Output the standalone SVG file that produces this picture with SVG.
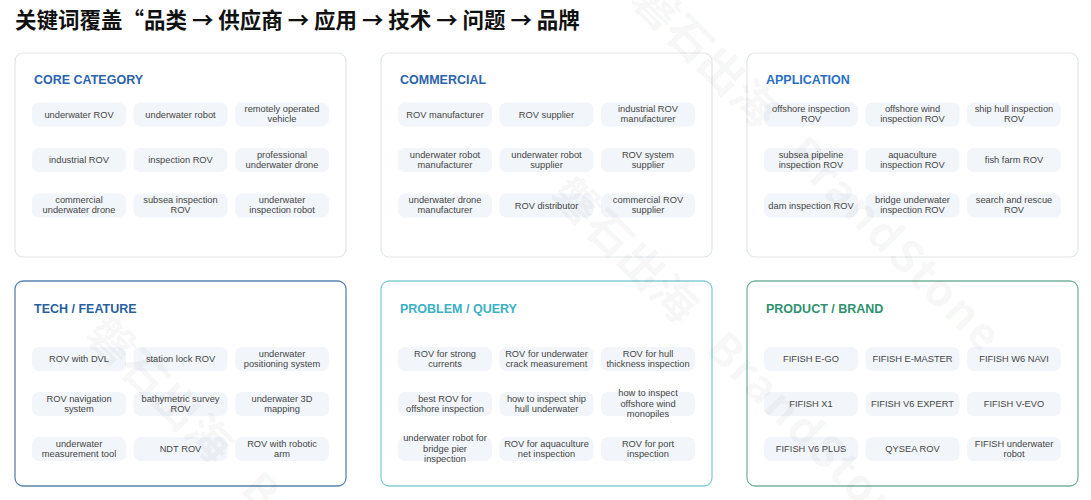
<svg xmlns="http://www.w3.org/2000/svg" width="1091" height="500" viewBox="0 0 1091 500">
<style>
.bg{fill:#ffffff}
.title{font-family:"Noto Sans CJK SC","Liberation Sans",sans-serif;font-weight:700;font-size:21.5px;fill:#111111}
.panel{fill:#ffffff;stroke:#e1e5ea;stroke-width:1.2}
.p-tech{stroke:#5b82ae;stroke-width:1.3}
.p-prob{stroke:#86cdd4;stroke-width:1.3}
.p-prod{stroke:#78b49c;stroke-width:1.3}
.head{font-family:"Liberation Sans",Arial,sans-serif;font-weight:700;font-size:12.5px}
.h-blue{fill:#2b63ad}
.h-app{fill:#2a6fc4}
.h-tech{fill:#2a5f9e}
.h-prob{fill:#3bb0c6}
.h-prod{fill:#2e926e}
.chip rect{fill:#f2f5f9}
.chip text{font-family:"Liberation Sans",Arial,sans-serif;font-size:9.3px;fill:#454545;text-anchor:middle}
.wm{font-family:"Noto Sans CJK SC","Liberation Sans",sans-serif;font-weight:700;font-size:44px;fill:#000000;fill-opacity:0.045}
</style>
<rect class="bg" x="0" y="0" width="1091" height="500"/>
<text id="page-title" class="title" x="15" y="28">关键词覆盖“品类 → 供应商 → 应用 → 技术 → 问题 → 品牌</text>

<!-- CORE CATEGORY -->
<g id="core-category">
<rect class="panel" x="15" y="53" width="331" height="204" rx="8"/>
<text class="head h-blue" x="34" y="84">CORE CATEGORY</text>
<g class="chip"><rect x="32" y="102.5" width="94" height="24" rx="7"/><text x="79" y="117.8">underwater ROV</text></g>
<g class="chip"><rect x="133.5" y="102.5" width="94" height="24" rx="7"/><text x="180.5" y="117.8">underwater robot</text></g>
<g class="chip"><rect x="235" y="102.5" width="94" height="24" rx="7"/><text x="282" y="112">remotely operated</text><text x="282" y="122.2">vehicle</text></g>
<g class="chip"><rect x="32" y="148" width="94" height="24" rx="7"/><text x="79" y="163.3">industrial ROV</text></g>
<g class="chip"><rect x="133.5" y="148" width="94" height="24" rx="7"/><text x="180.5" y="163.3">inspection ROV</text></g>
<g class="chip"><rect x="235" y="148" width="94" height="24" rx="7"/><text x="282" y="157.5">professional</text><text x="282" y="167.7">underwater drone</text></g>
<g class="chip"><rect x="32" y="193.5" width="94" height="24" rx="7"/><text x="79" y="203">commercial</text><text x="79" y="213.2">underwater drone</text></g>
<g class="chip"><rect x="133.5" y="193.5" width="94" height="24" rx="7"/><text x="180.5" y="203">subsea inspection</text><text x="180.5" y="213.2">ROV</text></g>
<g class="chip"><rect x="235" y="193.5" width="94" height="24" rx="7"/><text x="282" y="203">underwater</text><text x="282" y="213.2">inspection robot</text></g>
</g>

<!-- COMMERCIAL -->
<g id="commercial">
<rect class="panel" x="381" y="53" width="331" height="204" rx="8"/>
<text class="head h-blue" x="400" y="84">COMMERCIAL</text>
<g class="chip"><rect x="398" y="102.5" width="94" height="24" rx="7"/><text x="445" y="117.8">ROV manufacturer</text></g>
<g class="chip"><rect x="499.5" y="102.5" width="94" height="24" rx="7"/><text x="546.5" y="117.8">ROV supplier</text></g>
<g class="chip"><rect x="601" y="102.5" width="94" height="24" rx="7"/><text x="648" y="112">industrial ROV</text><text x="648" y="122.2">manufacturer</text></g>
<g class="chip"><rect x="398" y="148" width="94" height="24" rx="7"/><text x="445" y="157.5">underwater robot</text><text x="445" y="167.7">manufacturer</text></g>
<g class="chip"><rect x="499.5" y="148" width="94" height="24" rx="7"/><text x="546.5" y="157.5">underwater robot</text><text x="546.5" y="167.7">supplier</text></g>
<g class="chip"><rect x="601" y="148" width="94" height="24" rx="7"/><text x="648" y="157.5">ROV system</text><text x="648" y="167.7">supplier</text></g>
<g class="chip"><rect x="398" y="193.5" width="94" height="24" rx="7"/><text x="445" y="203">underwater drone</text><text x="445" y="213.2">manufacturer</text></g>
<g class="chip"><rect x="499.5" y="193.5" width="94" height="24" rx="7"/><text x="546.5" y="208.8">ROV distributor</text></g>
<g class="chip"><rect x="601" y="193.5" width="94" height="24" rx="7"/><text x="648" y="203">commercial ROV</text><text x="648" y="213.2">supplier</text></g>
</g>

<!-- APPLICATION -->
<g id="application">
<rect class="panel" x="747" y="53" width="331" height="204" rx="8"/>
<text class="head h-app" x="766" y="84">APPLICATION</text>
<g class="chip"><rect x="764" y="102.5" width="94" height="24" rx="7"/><text x="811" y="112">offshore inspection</text><text x="811" y="122.2">ROV</text></g>
<g class="chip"><rect x="865.5" y="102.5" width="94" height="24" rx="7"/><text x="912.5" y="112">offshore wind</text><text x="912.5" y="122.2">inspection ROV</text></g>
<g class="chip"><rect x="967" y="102.5" width="94" height="24" rx="7"/><text x="1014" y="112">ship hull inspection</text><text x="1014" y="122.2">ROV</text></g>
<g class="chip"><rect x="764" y="148" width="94" height="24" rx="7"/><text x="811" y="157.5">subsea pipeline</text><text x="811" y="167.7">inspection ROV</text></g>
<g class="chip"><rect x="865.5" y="148" width="94" height="24" rx="7"/><text x="912.5" y="157.5">aquaculture</text><text x="912.5" y="167.7">inspection ROV</text></g>
<g class="chip"><rect x="967" y="148" width="94" height="24" rx="7"/><text x="1014" y="163.3">fish farm ROV</text></g>
<g class="chip"><rect x="764" y="193.5" width="94" height="24" rx="7"/><text x="811" y="208.8">dam inspection ROV</text></g>
<g class="chip"><rect x="865.5" y="193.5" width="94" height="24" rx="7"/><text x="912.5" y="203">bridge underwater</text><text x="912.5" y="213.2">inspection ROV</text></g>
<g class="chip"><rect x="967" y="193.5" width="94" height="24" rx="7"/><text x="1014" y="203">search and rescue</text><text x="1014" y="213.2">ROV</text></g>
</g>

<!-- TECH / FEATURE -->
<g id="tech-feature">
<rect class="panel p-tech" x="15" y="281" width="331" height="205" rx="8"/>
<text class="head h-tech" x="34" y="313">TECH / FEATURE</text>
<g class="chip"><rect x="32" y="347" width="94" height="24" rx="7"/><text x="79" y="362.3">ROV with DVL</text></g>
<g class="chip"><rect x="133.5" y="347" width="94" height="24" rx="7"/><text x="180.5" y="362.3">station lock ROV</text></g>
<g class="chip"><rect x="235" y="347" width="94" height="24" rx="7"/><text x="282" y="356.5">underwater</text><text x="282" y="366.7">positioning system</text></g>
<g class="chip"><rect x="32" y="392" width="94" height="24" rx="7"/><text x="79" y="401.5">ROV navigation</text><text x="79" y="411.7">system</text></g>
<g class="chip"><rect x="133.5" y="392" width="94" height="24" rx="7"/><text x="180.5" y="401.5">bathymetric survey</text><text x="180.5" y="411.7">ROV</text></g>
<g class="chip"><rect x="235" y="392" width="94" height="24" rx="7"/><text x="282" y="401.5">underwater 3D</text><text x="282" y="411.7">mapping</text></g>
<g class="chip"><rect x="32" y="437" width="94" height="24" rx="7"/><text x="79" y="446.5">underwater</text><text x="79" y="456.7">measurement tool</text></g>
<g class="chip"><rect x="133.5" y="437" width="94" height="24" rx="7"/><text x="180.5" y="452.3">NDT ROV</text></g>
<g class="chip"><rect x="235" y="437" width="94" height="24" rx="7"/><text x="282" y="446.5">ROV with robotic</text><text x="282" y="456.7">arm</text></g>
</g>

<!-- PROBLEM / QUERY -->
<g id="problem-query">
<rect class="panel p-prob" x="381" y="281" width="331" height="205" rx="8"/>
<text class="head h-prob" x="400" y="313">PROBLEM / QUERY</text>
<g class="chip"><rect x="398" y="347" width="94" height="24" rx="7"/><text x="445" y="356.5">ROV for strong</text><text x="445" y="366.7">currents</text></g>
<g class="chip"><rect x="499.5" y="347" width="94" height="24" rx="7"/><text x="546.5" y="356.5">ROV for underwater</text><text x="546.5" y="366.7">crack measurement</text></g>
<g class="chip"><rect x="601" y="347" width="94" height="24" rx="7"/><text x="648" y="356.5">ROV for hull</text><text x="648" y="366.7">thickness inspection</text></g>
<g class="chip"><rect x="398" y="392" width="94" height="24" rx="7"/><text x="445" y="401.5">best ROV for</text><text x="445" y="411.7">offshore inspection</text></g>
<g class="chip"><rect x="499.5" y="392" width="94" height="24" rx="7"/><text x="546.5" y="401.5">how to inspect ship</text><text x="546.5" y="411.7">hull underwater</text></g>
<g class="chip"><rect x="601" y="392" width="94" height="24" rx="7"/><text x="648" y="396">how to inspect</text><text x="648" y="406.6">offshore wind</text><text x="648" y="417.2">monopiles</text></g>
<g class="chip"><rect x="398" y="437" width="94" height="24" rx="7"/><text x="445" y="441">underwater robot for</text><text x="445" y="451.6">bridge pier</text><text x="445" y="462.2">inspection</text></g>
<g class="chip"><rect x="499.5" y="437" width="94" height="24" rx="7"/><text x="546.5" y="446.5">ROV for aquaculture</text><text x="546.5" y="456.7">net inspection</text></g>
<g class="chip"><rect x="601" y="437" width="94" height="24" rx="7"/><text x="648" y="446.5">ROV for port</text><text x="648" y="456.7">inspection</text></g>
</g>

<!-- PRODUCT / BRAND -->
<g id="product-brand">
<rect class="panel p-prod" x="747" y="281" width="331" height="205" rx="8"/>
<text class="head h-prod" x="766" y="313">PRODUCT / BRAND</text>
<g class="chip"><rect x="764" y="347" width="94" height="24" rx="7"/><text x="811" y="362.3">FIFISH E-GO</text></g>
<g class="chip"><rect x="865.5" y="347" width="94" height="24" rx="7"/><text x="912.5" y="362.3">FIFISH E-MASTER</text></g>
<g class="chip"><rect x="967" y="347" width="94" height="24" rx="7"/><text x="1014" y="362.3">FIFISH W6 NAVI</text></g>
<g class="chip"><rect x="764" y="392" width="94" height="24" rx="7"/><text x="811" y="407.3">FIFISH X1</text></g>
<g class="chip"><rect x="865.5" y="392" width="94" height="24" rx="7"/><text x="912.5" y="407.3">FIFISH V6 EXPERT</text></g>
<g class="chip"><rect x="967" y="392" width="94" height="24" rx="7"/><text x="1014" y="407.3">FIFISH V-EVO</text></g>
<g class="chip"><rect x="764" y="437" width="94" height="24" rx="7"/><text x="811" y="452.3">FIFISH V6 PLUS</text></g>
<g class="chip"><rect x="865.5" y="437" width="94" height="24" rx="7"/><text x="912.5" y="452.3">QYSEA ROV</text></g>
<g class="chip"><rect x="967" y="437" width="94" height="24" rx="7"/><text x="1014" y="446.5">FIFISH underwater</text><text x="1014" y="456.7">robot</text></g>
</g>

<!-- faint watermark -->
<g id="watermark">
<text class="wm" transform="translate(640,-10) rotate(45)" x="0" y="0" dy="0.35em" textLength="184" lengthAdjust="spacingAndGlyphs">磐石出海</text>
<text class="wm" transform="translate(795,145) rotate(45)" x="0" y="0" dy="0.35em" textLength="280">BrandStone</text>
<text class="wm" transform="translate(560,185) rotate(45)" x="0" y="0" dy="0.35em" textLength="184" lengthAdjust="spacingAndGlyphs">磐石出海</text>
<text class="wm" transform="translate(715,340) rotate(45)" x="0" y="0" dy="0.35em" textLength="280">BrandStone</text>
<text class="wm" transform="translate(95,325) rotate(45)" x="0" y="0" dy="0.35em" textLength="184" lengthAdjust="spacingAndGlyphs">磐石出海</text>
<text class="wm" transform="translate(250,480) rotate(45)" x="0" y="0" dy="0.35em" textLength="280">BrandStone</text>
</g>
</svg>
